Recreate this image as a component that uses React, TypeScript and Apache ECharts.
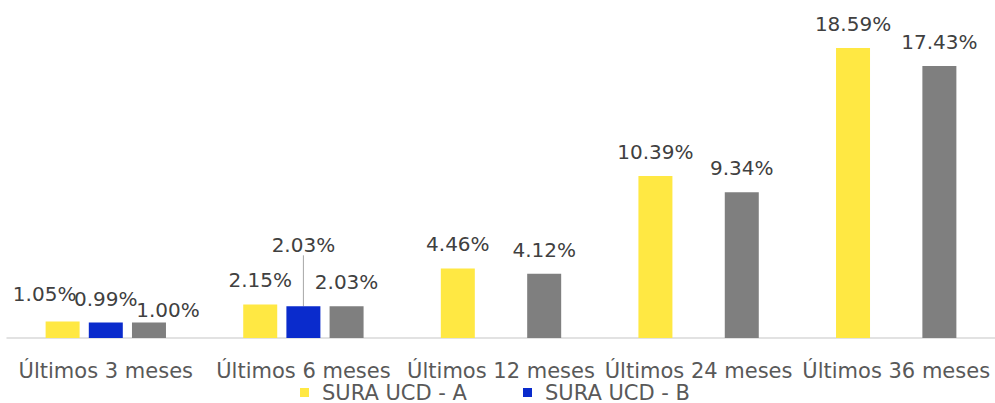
import React, { useEffect, useRef } from "react";
import * as echarts from "echarts";

const categories = ["Últimos 3 meses", "Últimos 6 meses", "Últimos 12 meses", "Últimos 24 meses", "Últimos 36 meses"];
const seriesNames = ["SURA UCD - A", "SURA UCD - B", "Serie 3"];
const valuesA = [1.05, 2.15, 4.46, 10.39, 18.59];
const valuesB: (number | null)[] = [0.99, 2.03, null, null, null];
const valuesC = [1.0, 2.03, 4.12, 9.34, 17.43];
const colors = ["#FFE843", "#0A2BCC", "#7F7F7F"];

const FONT = "DejaVu Sans";

export default function App() {
  const ref = useRef<HTMLDivElement>(null);
  useEffect(() => {
    if (!ref.current) return;
    const chart = echarts.init(ref.current, undefined, { renderer: "svg" });
    const labelBase = {
      show: true,
      position: "top" as const,
      distance: 14,
      fontFamily: FONT,
      fontSize: 20,
      color: "#404040",
      formatter: (p: any) => Number(p.value).toFixed(2) + "%",
    };
    const dataA = valuesA.map((v, i) =>
      i === 0 ? { value: v, label: { offset: [-18, -4] } } : { value: v }
    );
    const dataB = valuesB.map((v, i) => {
      if (v === null) return { value: "-" };
      if (i === 1) return { value: v, labelLine: { show: true, lineStyle: { color: "#a6a6a6", width: 1 } } };
      return { value: v, label: { offset: [0, -1] } };
    });
    const dataC = valuesC.map((v, i) =>
      i === 0 ? { value: v, label: { offset: [19, 12] } } : { value: v }
    );
    chart.setOption({
      animation: false,
      grid: { left: 7, right: 0, top: 26, bottom: 65, containLabel: false },
      legend: {
        data: [seriesNames[0], seriesNames[1]],
        left: 300,
        top: 382,
        padding: 0,
        icon: "rect",
        itemWidth: 9,
        itemHeight: 9,
        itemGap: 56,
        textStyle: { fontFamily: FONT, fontSize: 21, lineHeight: 20, color: "#595959", padding: [0, 0, 0, 8] },
      },
      xAxis: {
        type: "category",
        data: categories,
        axisLine: { show: true, lineStyle: { color: "#d9d9d9", width: 1.5 } },
        axisTick: { show: false },
        axisLabel: { interval: 0, margin: 23, fontFamily: FONT, fontSize: 21, lineHeight: 20, color: "#595959" },
      },
      yAxis: { type: "value", min: 0, max: 20, show: false, splitLine: { show: false } },
      series: [
        {
          name: seriesNames[0],
          type: "bar",
          data: dataA,
          barWidth: 34,
          barGap: "27%",
          itemStyle: { color: colors[0] },
          label: labelBase,
        },
        {
          name: seriesNames[1],
          type: "bar",
          data: dataB,
          barWidth: 34,
          barGap: "27%",
          itemStyle: { color: colors[1] },
          label: labelBase,
          labelLine: { show: false },
          labelLayout: (p: any) => (p.dataIndex === 1 ? { dy: -37 } : {}),
        },
        {
          name: seriesNames[2],
          type: "bar",
          data: dataC,
          barWidth: 34,
          barGap: "27%",
          itemStyle: { color: colors[2] },
          label: labelBase,
        },
      ],
    });
    return () => chart.dispose();
  }, []);
  return <div ref={ref} style={{ width: 995, height: 403, position: "absolute", left: 0, top: 0 }} />;
}
